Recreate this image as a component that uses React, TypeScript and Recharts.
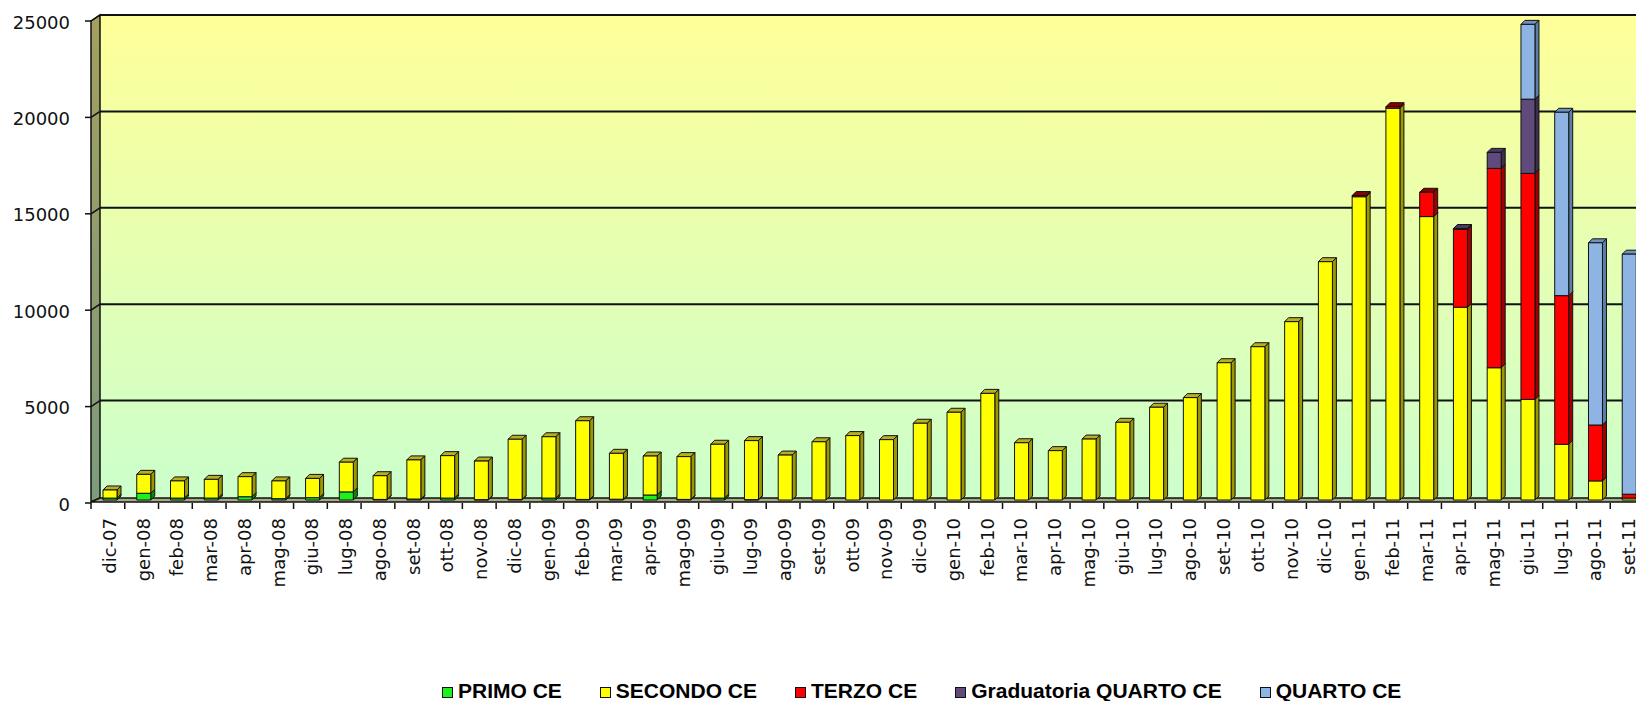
import { BarChart, Bar, XAxis, YAxis, ReferenceArea, Legend } from "recharts";

const months = [
  "dic-07", "gen-08", "feb-08", "mar-08", "apr-08", "mag-08", "giu-08", "lug-08", "ago-08", "set-08",
  "ott-08", "nov-08", "dic-08", "gen-09", "feb-09", "mar-09", "apr-09", "mag-09", "giu-09", "lug-09",
  "ago-09", "set-09", "ott-09", "nov-09", "dic-09", "gen-10", "feb-10", "mar-10", "apr-10", "mag-10",
  "giu-10", "lug-10", "ago-10", "set-10", "ott-10", "nov-10", "dic-10", "gen-11", "feb-11", "mar-11",
  "apr-11", "mag-11", "giu-11", "lug-11", "ago-11", "set-11",
];

const primoCE = [
  100, 350, 100, 100, 170, 70, 120, 420, 30, 50,
  100, 20, 30, 100, 30, 40, 260, 30, 100, 20,
  0, 0, 0, 0, 0, 0, 0, 0, 0, 0,
  0, 0, 0, 0, 0, 0, 0, 0, 0, 0,
  0, 0, 0, 0, 0, 0,
];

const secondoCE = [
  420, 980, 890, 970, 1040, 920, 1000, 1540, 1230, 2030,
  2200, 2000, 3120, 3180, 4080, 2380, 2020, 2220, 2790, 3060,
  2330, 3020, 3340, 3130, 3980, 4550, 5530, 2970, 2560, 3160,
  4030, 4810, 5310, 7120, 7950, 9250, 12360, 15730, 20320, 14700,
  10000, 6860, 5220, 2890, 990, 100,
];

const terzoCE = [
  0, 0, 0, 0, 0, 0, 0, 0, 0, 0,
  0, 0, 0, 0, 0, 0, 0, 0, 0, 0,
  0, 0, 0, 0, 0, 0, 0, 0, 0, 0,
  0, 0, 0, 0, 0, 0, 0, 60, 80, 1260,
  4040, 10340, 11720, 7710, 2900, 200,
];

const gradQuartoCE = [
  0, 0, 0, 0, 0, 0, 0, 0, 0, 0,
  0, 0, 0, 0, 0, 0, 0, 0, 0, 0,
  0, 0, 0, 0, 0, 0, 0, 0, 0, 0,
  0, 0, 0, 0, 0, 0, 0, 0, 0, 0,
  40, 830, 3850, 0, 0, 0,
];

const quartoCE = [
  0, 0, 0, 0, 0, 0, 0, 0, 0, 0,
  0, 0, 0, 0, 0, 0, 0, 0, 0, 0,
  0, 0, 0, 0, 0, 0, 0, 0, 0, 0,
  0, 0, 0, 0, 0, 0, 0, 0, 0, 0,
  0, 0, 3880, 9510, 9450, 12450,
];

const yTicks = [0, 5000, 10000, 15000, 20000, 25000];
const Y_MAX = 25000;

const SERIES = [
  { key: "primo", name: "PRIMO CE", face: "#1ef01e", side: "#0b8a0b", top: "#10b810" },
  { key: "secondo", name: "SECONDO CE", face: "#ffff00", side: "#9c9600", top: "#b8b020" },
  { key: "terzo", name: "TERZO CE", face: "#ff0000", side: "#a00000", top: "#8a0000" },
  { key: "grad", name: "Graduatoria QUARTO CE", face: "#604a7b", side: "#3d2e50", top: "#4a3960" },
  { key: "quarto", name: "QUARTO CE", face: "#8db4e2", side: "#5c7fa8", top: "#6f93be" },
];

const data = months.map((m, i) => ({
  month: m,
  primo: primoCE[i],
  secondo: secondoCE[i],
  terzo: terzoCE[i],
  grad: gradQuartoCE[i],
  quarto: quartoCE[i],
}));

const DEPTH = 4;
const HALF_BAND = 16.88;

function Box3D(props: any) {
  const { x, y, width, height, s } = props;
  if (!(height > 0)) return <g />;
  const fx = x + 2;
  const d = DEPTH;
  return (
    <g stroke="#111" strokeWidth={1} strokeLinejoin="round">
      <polygon points={`${fx},${y} ${fx + d},${y - d} ${fx + width + d},${y - d} ${fx + width},${y}`} fill={s.top} />
      <polygon
        points={`${fx + width},${y} ${fx + width + d},${y - d} ${fx + width + d},${y + height - d} ${fx + width},${y + height}`}
        fill={s.side}
      />
      <rect x={fx} y={y} width={width} height={height} fill={s.face} />
    </g>
  );
}

// back wall, side wall and floor of the 3D plot
function Walls(props: any) {
  const { x, y, width, height } = props;
  const right = x + width + 30;
  const bx = x + 9;
  const top = y - 3;
  const floorBack = y + height - 2;
  const floorFront = y + height + 2;
  const lines = yTicks.map((v) => y + height * (1 - v / Y_MAX));
  return (
    <g>
      <defs>
        <linearGradient id="wallBg" x1="0" y1="0" x2="0" y2="1">
          <stop offset="0" stopColor="#ffff99" />
          <stop offset="1" stopColor="#ccffcc" />
        </linearGradient>
        <linearGradient id="sideWall" x1="0" y1="0" x2="0" y2="1">
          <stop offset="0" stopColor="#a39f5f" />
          <stop offset="1" stopColor="#7c9c7c" />
        </linearGradient>
      </defs>
      <rect x={bx} y={top} width={right - bx} height={floorBack - top} fill="url(#wallBg)" />
      <polygon
        points={`${x},${y + 3} ${bx},${top} ${bx},${floorBack} ${x},${floorFront}`}
        fill="url(#sideWall)"
        stroke="#111"
        strokeWidth={1.5}
      />
      <polygon
        points={`${x},${floorFront} ${bx},${floorBack} ${right},${floorBack} ${right},${floorFront}`}
        fill="#a6ab84"
        stroke="#111"
        strokeWidth={1.5}
      />
      {lines.map((ly, i) =>
        i === 0 ? null : (
          <g key={i}>
            <line x1={x} y1={ly + 3} x2={bx} y2={ly - 3} stroke="#111" strokeWidth={1.5} />
            <line x1={bx} y1={ly - 3} x2={right} y2={ly - 3} stroke="#111" strokeWidth={2} />
          </g>
        )
      )}
    </g>
  );
}

function MonthTick(props: any) {
  const { x, y, payload } = props;
  const half = typeof payload.offset === "number" && payload.offset > 0 ? payload.offset : HALF_BAND;
  return (
    <g>
      <line x1={x - half} y1={y + 3} x2={x - half} y2={y + 9} stroke="#111" strokeWidth={1.5} />
      <text
        transform={`translate(${x + 8},${y + 18}) rotate(-90)`}
        textAnchor="end"
        fontFamily="'DejaVu Sans', Verdana, sans-serif"
        fontSize={18}
        fill="#111"
      >
        {payload.value}
      </text>
    </g>
  );
}

function ValueTick(props: any) {
  const { x, y, payload } = props;
  return (
    <g>
      <line x1={x - 6} y1={y + 3} x2={x} y2={y + 3} stroke="#111" strokeWidth={1.5} />
      <text
        x={x - 21}
        y={y + 4}
        textAnchor="end"
        dominantBaseline="central"
        fontFamily="'DejaVu Sans', Verdana, sans-serif"
        fontSize={18}
        fill="#111"
      >
        {payload.value}
      </text>
    </g>
  );
}

function LegendBox() {
  return (
    <div
      style={{
        display: "flex",
        alignItems: "center",
        height: 24,
        paddingLeft: 442,
        fontFamily: "'Liberation Sans', Arial, sans-serif",
        fontWeight: 700,
        fontSize: 21,
        color: "#000",
        whiteSpace: "nowrap",
      }}
    >
      {SERIES.map((s) => (
        <div key={s.key} style={{ display: "flex", alignItems: "center", marginRight: 38 }}>
          <span
            style={{
              display: "inline-block",
              width: 11,
              height: 11,
              boxSizing: "border-box",
              border: "1.5px solid #111",
              background: s.face,
              marginRight: 5,
              marginTop: 3,
            }}
          />
          <span>{s.name}</span>
        </div>
      ))}
    </div>
  );
}

export default function App() {
  return (
    <div
      style={{
        position: "fixed",
        left: 0,
        top: 0,
        width: 1636,
        height: 701,
        overflow: "hidden",
        background: "#fff",
      }}
    >
      <BarChart
        width={1660}
        height={701}
        data={data}
        margin={{ top: 18, right: 16, left: 0, bottom: 0 }}
        barSize={14}
      >
        <ReferenceArea y1={0} y2={Y_MAX} ifOverflow="visible" shape={(p: any) => <Walls {...p} />} />
        <XAxis
          dataKey="month"
          interval={0}
          height={177}
          axisLine={false}
          tickLine={false}
          tickSize={0}
          tickMargin={0}
          tick={(p: any) => <MonthTick {...p} />}
        />
        <YAxis
          width={91}
          domain={[0, Y_MAX]}
          ticks={yTicks}
          interval={0}
          axisLine={false}
          tickLine={false}
          tickSize={0}
          tickMargin={0}
          tick={(p: any) => <ValueTick {...p} />}
        />
        {SERIES.map((s) => (
          <Bar
            key={s.key}
            dataKey={s.key}
            name={s.name}
            stackId="ce"
            fill={s.face}
            isAnimationActive={false}
            shape={(p: any) => <Box3D {...p} s={s} />}
          />
        ))}
        <Legend
          verticalAlign="bottom"
          content={() => <LegendBox />}
          wrapperStyle={{ top: 679, left: 0, width: 1636, height: 24 }}
        />
      </BarChart>
    </div>
  );
}
